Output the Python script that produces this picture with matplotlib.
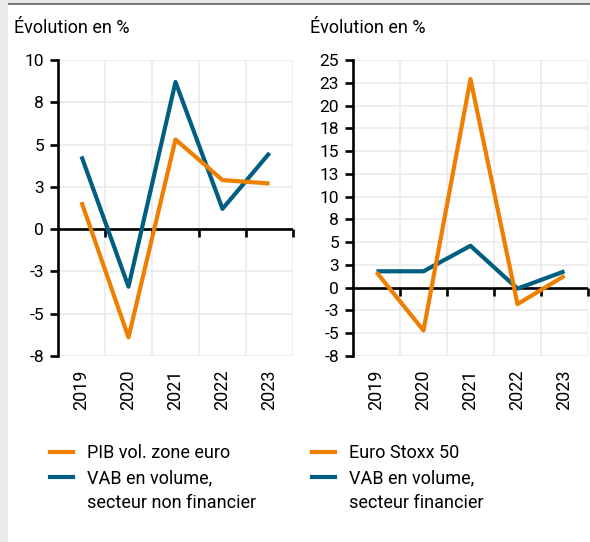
import matplotlib
matplotlib.use("Agg")
import matplotlib.pyplot as plt
from matplotlib.lines import Line2D
from matplotlib.patches import Rectangle

plt.rcParams['font.family'] = ['Roboto', 'DejaVu Sans']

years = ['2019', '2020', '2021', '2022', '2023']

# Left panel
pib_vol = [1.6, -6.4, 5.3, 2.9, 2.7]
vab_non_fin = [4.3, -3.4, 8.7, 1.2, 4.5]
left_ticks = [10, 7.5, 5, 2.5, 0, -2.5, -5, -7.5]
left_labels = ['10', '8', '5', '3', '0', '-3', '-5', '-8']
left_legend = ['PIB vol. zone euro', 'VAB en volume,', 'secteur non financier']

# Right panel
euro_stoxx = [1.7, -4.7, 22.9, -1.8, 1.3]
vab_fin = [1.8, 1.8, 4.6, -0.1, 1.8]
right_ticks = [25, 22.5, 20, 17.5, 15, 12.5, 10, 7.5, 5, 2.5, 0, -2.5, -5, -7.5]
right_labels = ['25', '23', '20', '18', '15', '13', '10', '8', '5', '3', '0', '-3', '-5', '-8']
right_legend = ['Euro Stoxx 50', 'VAB en volume,', 'secteur financier']

ORANGE = '#EE7F00'
BLUE = '#005E80'
GRID = '#EBEBEB'

fig = plt.figure(figsize=(5.90, 5.42), dpi=100)

# decorations: left gray strip and top line
fig.patches.append(Rectangle((0, 0), 8/590, 1, transform=fig.transFigure,
                             facecolor='#EBEBEB', edgecolor='none', zorder=0))
fig.patches.append(Rectangle((8/590, 1-5/542), 1, 2/542, transform=fig.transFigure,
                             facecolor='#7A7A7A', edgecolor='none', zorder=0))
fig.patches.append(Rectangle((8/590, 1-3/542), 1, 3/542, transform=fig.transFigure,
                             facecolor='#E6E6E6', edgecolor='none', zorder=0))

def panel(rect, s1, s2, ticks, labels, ylim, leg_labels, title, title_x, leg_x):
    ax = fig.add_axes(rect)
    x = list(range(len(years)))
    ax.set_xlim(-0.5, len(years) - 0.5)
    ax.set_ylim(*ylim)
    ax.set_yticks(ticks)
    ax.set_yticklabels(labels)
    for t in ticks:
        ax.axhline(t, color=GRID, lw=1.2, zorder=0)
    for b in [i + 0.5 for i in x]:
        ax.axvline(b, color=GRID, lw=1.2, zorder=0)
    ax.axhline(0, color='black', lw=1.9, zorder=1)
    # tick marks on zero line at category boundaries
    for b in [i + 0.5 for i in x]:
        ax.plot([b], [0], marker=3, markersize=6, mew=1.9, color='black',
                zorder=1, clip_on=False)
    ax.plot(x, s1, color=ORANGE, lw=3.0, solid_capstyle='butt', zorder=3)
    ax.plot(x, s2, color=BLUE, lw=3.0, solid_capstyle='butt', zorder=2)
    ax.set_xticks(x)
    ax.set_xticklabels(years, rotation=90)
    ax.tick_params(axis='x', length=0, pad=10, labelsize=13)
    ax.tick_params(axis='y', length=6, width=1.9, pad=4, labelsize=12.5)
    for sp in ['top', 'right', 'bottom']:
        ax.spines[sp].set_visible(False)
    ax.spines['left'].set_linewidth(1.9)
    ax.spines['left'].set_zorder(4)
    fig.text(title_x, 1 - 28/542, title, fontsize=13, va='center', ha='left')
    handles = [Line2D([], [], color=ORANGE, lw=3.0),
               Line2D([], [], color=BLUE, lw=3.0),
               Line2D([], [], color='none', lw=0)]
    fig.legend(handles, leg_labels, loc='upper left',
               bbox_to_anchor=(leg_x, 1 - 444/542), frameon=False,
               fontsize=13, handlelength=1.3, handletextpad=0.75,
               labelspacing=0.38, borderaxespad=0, borderpad=0)
    return ax

bottom = 1 - 356/542
height = 296/542
panel([58/590, bottom, 235/590, height], pib_vol, vab_non_fin, left_ticks,
      left_labels, (-7.5, 10), left_legend, 'Évolution en %', 14/590, 50/590)
panel([353/590, bottom, 235/590, height], euro_stoxx, vab_fin, right_ticks,
      right_labels, (-7.5, 25), right_legend, 'Évolution en %', 310/590, 312/590)

fig.savefig('out.png', dpi=100, facecolor='white')
